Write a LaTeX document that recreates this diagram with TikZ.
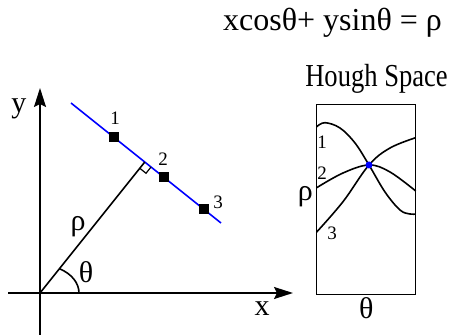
\documentclass[tikz,border=0pt]{standalone}
\usepackage{fontspec}
\setmainfont{Liberation Serif}
\usetikzlibrary{arrows.meta, positioning, calc}

\begin{document}
\begin{tikzpicture}[
    x=1pt, y=1pt,
    axis/.style={line width=1.8pt, -{Stealth[length=19pt, width=12pt, inset=3pt]}},
    blueline/.style={line width=1.6pt, blue},
    sample/.style={rectangle, fill=black, minimum size=10pt, inner sep=0pt},
    num/.style={font=\fontsize{19}{19}\selectfont, inner sep=1pt},
    lbl/.style={font=\fontsize{30}{30}\selectfont, inner sep=1pt},
    curve/.style={line width=1.6pt},
    every node/.style={inner sep=1pt}
  ]
    \useasboundingbox (0,0) rectangle (451,335);

    % Image space axes
    \coordinate (O) at (40,42);
    \coordinate (xa) at (8,42);
    \coordinate (xb) at (293,42);
    \coordinate (ya) at (40,0);
    \coordinate (yb) at (40,247);
    \draw[axis] (xa) -- (xb);
    \draw[axis] (ya) -- (yb);
    \node[lbl] (xlab) at (262,26) {x};
    \node[lbl] (ylab) at (19,226) {y};

    % Line and its samples
    \coordinate (A) at (71,232);
    \coordinate (B) at (221,112);
    \draw[blueline] (A) -- (B);
    \node[sample] (p1) at ($(A)!0.287!(B)$) {};
    \node[sample] (p2) at ($(A)!0.62!(B)$) {};
    \node[sample] (p3) at ($(A)!0.887!(B)$) {};
    \node[num] at (115,217) {1};
    \node[num] at (163,176) {2};
    \node[num] at (218,133) {3};

    % Normal from origin
    \coordinate (F) at ($(A)!(O)!(B)$);
    \draw[line width=1.6pt] (O) -- (F);
    \coordinate (m1) at ($(F)!8pt!(B)$);
    \coordinate (m2) at ($(F)!8pt!(O)$);
    \draw[line width=1.2pt] (m1) -- ($(m1)+(m2)-(F)$) -- (m2);
    \node[lbl] (rho) at (78,108) {ρ};

    % Angle
    \draw[line width=1.6pt] ($(O)+(39,0)$) arc[start angle=0, end angle=60, x radius=39, y radius=28];
    \node[lbl] (theta) at (86,63) {θ};

    % Equation
    \node[lbl, font=\fontsize{32}{32}\selectfont] (eq) at (332.5,312) {xcosθ+ ysinθ = ρ};

    % Hough space
    \node[draw, line width=1.3pt, minimum width=99pt, minimum height=190pt, inner sep=0pt] (hs) at (366.2,135.7) {};
    \node[lbl, font=\fontsize{32}{32}\selectfont, anchor=base] (title) at (376.5,248) {\scalebox{0.83}[1]{Hough Space}};
    \node[lbl, left=2pt of hs, yshift=3pt] (hrho) {ρ};
    \node[lbl, below=1pt of hs] (htheta) {θ};

    % Sinusoids
    \draw[curve] plot[smooth, tension=0.6] coordinates {(316.7,208.3) (325,212.3) (340,207) (355,192) (369,170) (385,143) (400,125) (410,121) (415.7,121)};
    \draw[curve] plot[smooth, tension=0.6] coordinates {(316.7,147.3) (343,162) (369,170) (390,163) (415.7,144)};
    \draw[curve] plot[smooth, tension=0.6] coordinates {(316.7,103) (343,133.3) (369,170) (390,187) (415.7,197.3)};
    \fill[blue] (369,170) circle[radius=3.5pt];
    \node[num] at (322,193) {1};
    \node[num] at (322,162) {2};
    \node[num] at (332,102) {3};
\end{tikzpicture}
\end{document}
